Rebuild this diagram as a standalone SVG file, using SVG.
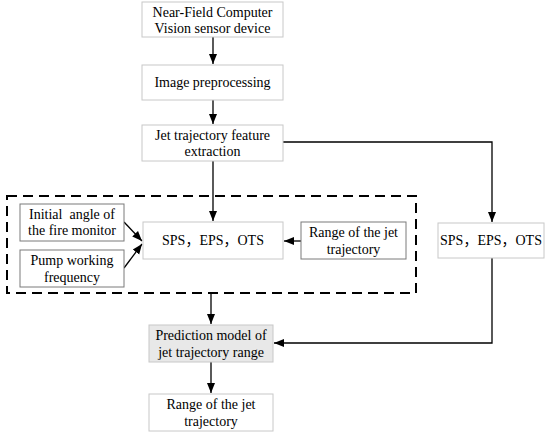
<svg xmlns="http://www.w3.org/2000/svg" width="550" height="436" viewBox="0 0 550 436">
<style>
.b{fill:#fff;stroke:#c8c8c8;stroke-width:1}
.d{fill:#fff;stroke:#7a7a7a;stroke-width:1}
.g{fill:#e8e8e8;stroke:#c8c8c8;stroke-width:1}
text{font-family:"Liberation Serif","Times New Roman","Noto Sans CJK SC",serif;font-size:14px;fill:#000;text-anchor:middle}
.c{fill:none;stroke:#000;stroke-width:1.3}
</style>
<defs>
<marker id="ah" viewBox="0 0 10 10" refX="10" refY="5" markerWidth="10" markerHeight="10" markerUnits="userSpaceOnUse" orient="auto">
<path d="M0,1 L10,5 L0,9 z" fill="#000"/>
</marker>
</defs>
<rect x="0" y="0" width="550" height="436" fill="#fff"/>
<g id="connectors">
<path class="c" d="M213,37 V64" marker-end="url(#ah)"/>
<path class="c" d="M213,100 V124" marker-end="url(#ah)"/>
<path class="c" d="M213,161 V221" marker-end="url(#ah)"/>
<path class="c" d="M283,142 H492 V222" marker-end="url(#ah)"/>
<path class="c" d="M301,241 H284" marker-end="url(#ah)"/>
<path class="c" d="M124,222 L142,241" marker-end="url(#ah)"/>
<path class="c" d="M124,268 L142,244" marker-end="url(#ah)"/>
<path class="c" d="M211,293 V324" marker-end="url(#ah)"/>
<path class="c" d="M492,258 V343 H274" marker-end="url(#ah)"/>
<path class="c" d="M211,362 V393" marker-end="url(#ah)"/>
</g>
<g id="group-box">
<rect x="7" y="196" width="409" height="97" fill="none" stroke="#000" stroke-width="2" stroke-dasharray="10,6"/>
</g>
<g id="n1"><rect class="b" x="142" y="2" width="141" height="35"/>
<text x="212.5" y="17">Near-Field Computer</text><text x="212.5" y="33">Vision sensor device</text></g>
<g id="n2"><rect class="b" x="142" y="65" width="141" height="35"/>
<text x="212.5" y="87">Image preprocessing</text></g>
<g id="n3"><rect class="b" x="142" y="125" width="141" height="36"/>
<text x="212.5" y="140">Jet trajectory feature</text><text x="212.5" y="156">extraction</text></g>
<g id="n4"><rect class="d" x="20" y="204" width="104" height="37"/>
<text x="72" y="219" xml:space="preserve">Initial  angle of</text><text x="72" y="235">the fire monitor</text></g>
<g id="n5"><rect class="d" x="20" y="250" width="104" height="37"/>
<text x="72" y="265">Pump working</text><text x="72" y="282">frequency</text></g>
<g id="n6"><rect class="b" x="143" y="222" width="140" height="37"/>
<text x="213" y="245">SPS，EPS，OTS</text></g>
<g id="n7"><rect class="d" x="301" y="222" width="105" height="37"/>
<text x="353.5" y="237">Range of the jet</text><text x="353.5" y="254">trajectory</text></g>
<g id="n8"><rect class="b" x="438" y="223" width="106" height="35"/>
<text x="491" y="245">SPS，EPS，OTS</text></g>
<g id="n9"><rect class="g" x="149" y="325" width="124" height="37"/>
<text x="211" y="340">Prediction model of</text><text x="211" y="357">jet trajectory range</text></g>
<g id="n10"><rect class="b" x="149" y="394" width="124" height="37"/>
<text x="211" y="409">Range of the jet</text><text x="211" y="426">trajectory</text></g>
</svg>
